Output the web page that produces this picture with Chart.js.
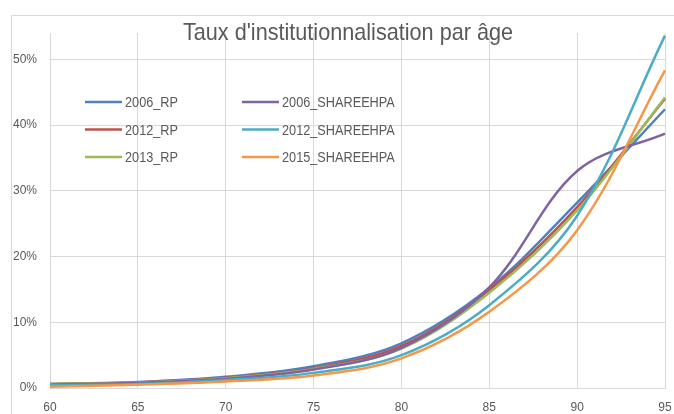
<!DOCTYPE html>
<html>
<head>
<meta charset="utf-8">
<title>Taux d'institutionnalisation par âge</title>
<script src="https://cdn.jsdelivr.net/npm/chart.js@4"></script>
<style>
    html, body { margin: 0; padding: 0; background: #ffffff; }
    #wrap { width: 674px; height: 414px; position: relative; }
</style>
</head>
<body>
<div id="wrap"><canvas id="tauxChart" width="674" height="414"></canvas></div>
<script>
// Taux d'institutionnalisation par âge (en %)

const ages = [60, 65, 70, 75, 80, 85, 90, 95];
const yTicks = [0, 10, 20, 30, 40, 50];

const rp2006 = [0.6, 0.9, 1.7, 3.3, 6.8, 15.2, 28.2, 42.4];
const rp2012 = [0.6, 0.85, 1.55, 3.0, 6.4, 14.9, 27.5, 44.0];
const rp2013 = [0.6, 0.85, 1.5, 2.9, 6.0, 14.5, 27.0, 44.2];
const share2006 = [0.5, 0.8, 1.4, 2.8, 6.1, 15.3, 33.0, 38.7];
const share2012 = [0.4, 0.6, 1.2, 2.3, 5.0, 12.6, 26.2, 53.6];
const share2015 = [0.2, 0.5, 1.0, 1.9, 4.5, 11.6, 24.0, 48.3];

const seriesNames = ['2006_RP', '2012_RP', '2013_RP', '2006_SHAREEHPA', '2012_SHAREEHPA', '2015_SHAREEHPA'];
const seriesValues = [rp2006, rp2012, rp2013, share2006, share2012, share2015];
const seriesColors = ['#4f81bd', '#c0504d', '#9bbb59', '#8064a2', '#4bacc6', '#f79646'];

const sans = "'Liberation Sans', Arial, sans-serif";
const textGray = '#595959';
const gridGray = '#d9d9d9';

// later series are painted on top of earlier ones
const datasets = seriesNames.map((name, i) => ({
    label: name,
    data: ages.map((a, j) => ({ x: a, y: seriesValues[i][j] })),
    borderColor: seriesColors[i],
    backgroundColor: seriesColors[i],
    borderWidth: 2.5,
    pointRadius: 0,
    tension: 0.35,
    fill: false,
    clip: false,
    order: seriesNames.length - 1 - i,
}));

// text squeezed horizontally so it reads like a narrow face
function narrowText(ctx, text, x, y, squeeze) {
    ctx.save();
    ctx.translate(x, y);
    ctx.scale(squeeze, 1);
    ctx.fillText(text, 0, 0);
    ctx.restore();
}

// outer frame + title + in-plot legend
const decorations = {
    id: 'decorations',
    beforeDraw(chart) {
        const ctx = chart.ctx;
        ctx.save();
        ctx.strokeStyle = gridGray;
        ctx.lineWidth = 1;
        ctx.beginPath();
        ctx.moveTo(11.5, 414);
        ctx.lineTo(11.5, 15.5);
        ctx.lineTo(674, 15.5);
        ctx.stroke();
        ctx.restore();
    },
    afterDraw(chart) {
        const ctx = chart.ctx;
        ctx.save();
        ctx.fillStyle = textGray;
        ctx.textBaseline = 'alphabetic';

        const title = "Taux d'institutionnalisation par âge";
        ctx.font = `24px ${sans}`;
        ctx.textAlign = 'center';
        const tw = ctx.measureText(title).width;
        narrowText(ctx, title, 348, 40, 330 / tw);

        ctx.font = `15px ${sans}`;
        ctx.textAlign = 'left';
        ctx.textBaseline = 'middle';
        const unit = 53 / ctx.measureText('2006_RP').width;
        chart.data.datasets.forEach((ds, i) => {
            const col = Math.floor(i / 3);
            const row = i % 3;
            const x = 85 + col * 157;
            const y = 102 + row * 27.5;
            ctx.strokeStyle = ds.borderColor;
            ctx.lineWidth = 2.5;
            ctx.beginPath();
            ctx.moveTo(x, y);
            ctx.lineTo(x + 37, y);
            ctx.stroke();
            narrowText(ctx, ds.label, x + 40, y + 1, unit);
        });
        ctx.restore();
    }
};

new Chart(document.getElementById('tauxChart'), {
    type: 'line',
    data: { datasets: datasets },
    options: {
        responsive: false,
        animation: false,
        layout: { padding: { left: 0, right: 9, top: 33, bottom: 0 } },
        plugins: {
            legend: { display: false },
            title: { display: false },
            tooltip: { enabled: false }
        },
        scales: {
            x: {
                type: 'linear',
                min: 60,
                max: 95,
                ticks: {
                    stepSize: 5,
                    color: textGray,
                    padding: 12,
                    font: { family: sans, size: 12 }
                },
                grid: { color: gridGray, drawTicks: false },
                border: { color: gridGray },
                afterFit: (scale) => {
                    scale.height = 26;
                    scale.paddingLeft = 0;
                    scale.paddingRight = 0;
                }
            },
            y: {
                min: 0,
                max: 54,
                ticks: {
                    stepSize: 10,
                    color: textGray,
                    padding: 13,
                    font: { family: sans, size: 12 },
                    callback: (v) => `${v}%`
                },
                afterBuildTicks: (scale) => {
                    scale.ticks = yTicks.map(v => ({ value: v }));
                },
                grid: { color: gridGray, drawTicks: false },
                border: { color: gridGray },
                afterFit: (scale) => { scale.width = 50; }
            }
        }
    },
    plugins: [decorations]
});
</script>
</body>
</html>
